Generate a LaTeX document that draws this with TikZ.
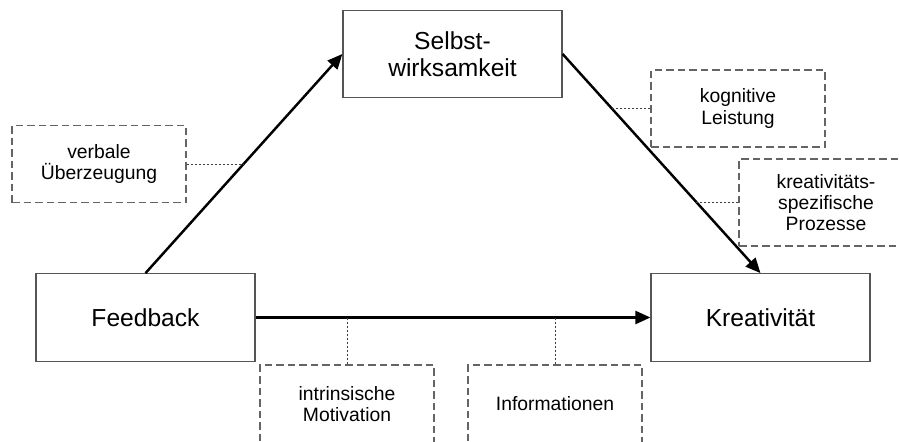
\documentclass[tikz,border=0pt]{standalone}
\usepackage{fontspec}
\setmainfont{Liberation Sans}
\usepackage{tikz}
\usetikzlibrary{
  arrows.meta,
  calc,
  positioning
}
\definecolor{boxgray}{RGB}{85,85,85}
\definecolor{dashgray}{RGB}{100,100,100}

\begin{document}
\begin{tikzpicture}[
  mainbox/.style={draw=boxgray, line width=0.7pt, minimum width=4.38cm,
               minimum height=1.75cm, align=center, inner sep=0pt,
               font=\fontsize{14}{15.5}\selectfont},
  factor/.style={draw=dashgray, line width=0.65pt, dash pattern=on 1.5mm off 0.8mm,
               minimum width=3.48cm, minimum height=1.54cm, align=center,
               inner sep=0pt, font=\fontsize{11}{12}\selectfont},
  arr/.style={-{Triangle[length=3mm, width=2.6mm]}, line width=1.4pt, black},
  tie/.style={black!75, line width=0.5pt, dash pattern=on 0.5mm off 0.3mm}
]
  \useasboundingbox (0,0) rectangle (17.98,8.82);

  % the three constructs
  \node[mainbox] (sw) at (9.05,7.74) {Selbst-\\wirksamkeit};
  \node[mainbox] (fb) at (2.91,2.47) {Feedback};
  \node[mainbox] (kr) at (15.21,2.47) {Kreativit\"at};

  % paths
  \draw[arr] (fb.north) -- (sw.west) coordinate[pos=0.5] (p1);
  \draw[arr] (sw.east) -- (kr.north) coordinate[pos=0.25] (p2)
                                     coordinate[pos=0.676] (p3);
  \draw[arr] (fb.east) -- (kr.west);

  % mediating factors
  \node[factor] (vu) at (1.98,5.54) {verbale\\\"Uberzeugung};
  \node[factor] (kl) at (14.76,6.65) {kognitive\\Leistung};
  \node[factor, minimum height=1.74cm] (kp) at (16.52,4.77)
    {kreativit\"ats-\\spezifische\\Prozesse};
  \node[factor, minimum height=1.56cm] (im) at (6.94,0.74)
    {intrinsische\\Motivation};
  \node[factor, minimum height=1.56cm] (in) at (11.10,0.74) {Informationen};

  \draw[tie] (vu.east) -- (vu.east -| p1);
  \draw[tie] (kl.west) -- (kl.west -| p2);
  \draw[tie] (kp.west) -- (kp.west -| p3);
  \draw[tie] (im.north) -- (im.north |- fb.east);
  \draw[tie] (in.north) -- (in.north |- fb.east);
\end{tikzpicture}
\end{document}
